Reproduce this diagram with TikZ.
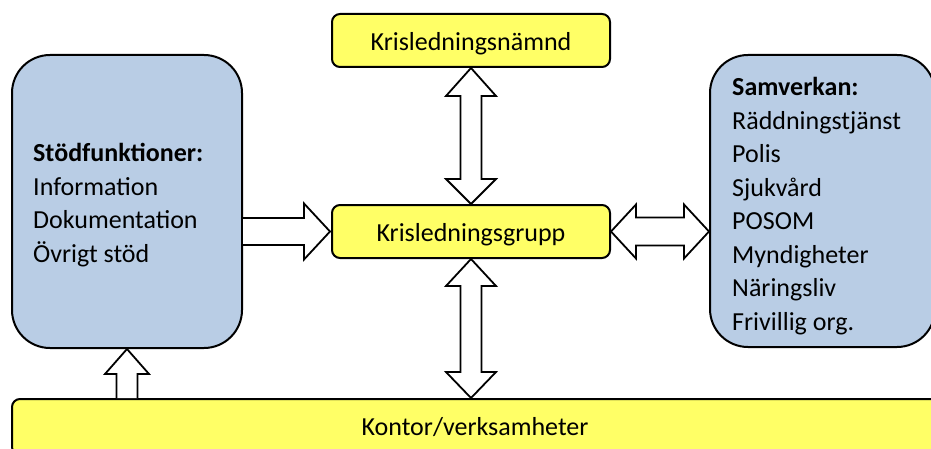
\documentclass[tikz,border=0pt]{standalone}
\usepackage{fontspec}
\setmainfont{Carlito}
\usetikzlibrary{calc}
\definecolor{boxyellow}{RGB}{255,255,102}
\definecolor{boxblue}{RGB}{185,205,229}
\begin{document}
\begin{tikzpicture}[x=1pt,y=-1pt,
  every node/.style={font=\fontsize{26}{33.5}\selectfont},
  ybox/.style={draw=black,line width=2pt,fill=boxyellow,rounded corners=8pt,inner sep=0pt,text height=20.5pt,text depth=0pt},
  bbox/.style={draw=black,line width=2pt,fill=boxblue,rounded corners=38pt,inner sep=0pt},
  txt/.style={align=left,inner sep=0pt,anchor=west},
  arr/.style={draw=black,line width=1.8pt,fill=white,line join=miter}]
\clip (0,0) rectangle (931,449);
\fill[white] (0,0) rectangle (931,449);
\node[ybox,minimum width=278pt,minimum height=53pt] (n) at (471,40.5) {Krisledningsnämnd};
\node[ybox,minimum width=278pt,minimum height=53pt] (g) at (471,231.5) {Krisledningsgrupp};
\node[ybox,minimum width=926pt,minimum height=56pt,text height=16pt] (k) at (475,427) {Kontor/verksamheter};
\node[bbox,minimum width=230pt,minimum height=293pt] (l) at (127,201.5) {};
\node[bbox,minimum width=225pt,minimum height=292pt] (s) at (822.5,201) {};
\node[txt] (lt) at ($(l.west)+(22,3.5)$)
  {\textbf{Stödfunktioner:}\\Information\\Dokumentation\\Övrigt stöd};
\node[txt] (st) at ($(s.west)+(23,5)$)
  {\textbf{Samverkan:}\\Räddningstjänst\\Polis\\Sjukvård\\POSOM\\Myndigheter\\Näringsliv\\Frivillig org.};
% top double arrow
\draw[arr] (n.south) -- ($(n.south)+(25,28)$) -- ($(n.south)+(10.5,28)$) -- ($(g.north)+(10.5,-25)$)
  -- ($(g.north)+(25,-25)$) -- (g.north) -- ($(g.north)+(-25,-25)$) -- ($(g.north)+(-10.5,-25)$)
  -- ($(n.south)+(-10.5,28)$) -- ($(n.south)+(-25,28)$) -- cycle;
% bottom double arrow
\coordinate (kb) at (g.south |- k.north);
\draw[arr] (g.south) -- ($(g.south)+(25,27)$) -- ($(g.south)+(10.5,27)$) -- ($(kb)+(10.5,-26)$)
  -- ($(kb)+(25,-26)$) -- (kb) -- ($(kb)+(-25,-26)$) -- ($(kb)+(-10.5,-26)$)
  -- ($(g.south)+(-10.5,27)$) -- ($(g.south)+(-25,27)$) -- cycle;
% right double arrow
\coordinate (sw) at (g.east -| s.west);
\draw[arr] (g.east) -- ($(g.east)+(25,-27)$) -- ($(g.east)+(25,-14)$) -- ($(sw)+(-25,-14)$)
  -- ($(sw)+(-25,-27)$) -- (sw) -- ($(sw)+(-25,27)$) -- ($(sw)+(-25,14)$)
  -- ($(g.east)+(25,14)$) -- ($(g.east)+(25,27)$) -- cycle;
% left single arrow
\coordinate (le) at (l.east |- g.west);
\coordinate (gw) at ($(g.west)+(-1,0)$);
\draw[arr] ($(le)+(0,-13.5)$) -- ($(gw)+(-26,-13.5)$) -- ($(gw)+(-26,-28)$) -- (gw)
  -- ($(gw)+(-26,28)$) -- ($(gw)+(-26,13.5)$) -- ($(le)+(0,13.5)$);
% small up arrow
\coordinate (lb) at (l.south |- k.north);
\draw[arr] ($(lb)+(-10.5,0)$) -- ($(l.south)+(-10.5,25)$) -- ($(l.south)+(-22,25)$) -- (l.south)
  -- ($(l.south)+(22,25)$) -- ($(l.south)+(10.5,25)$) -- ($(lb)+(10.5,0)$);
\end{tikzpicture}
\end{document}
